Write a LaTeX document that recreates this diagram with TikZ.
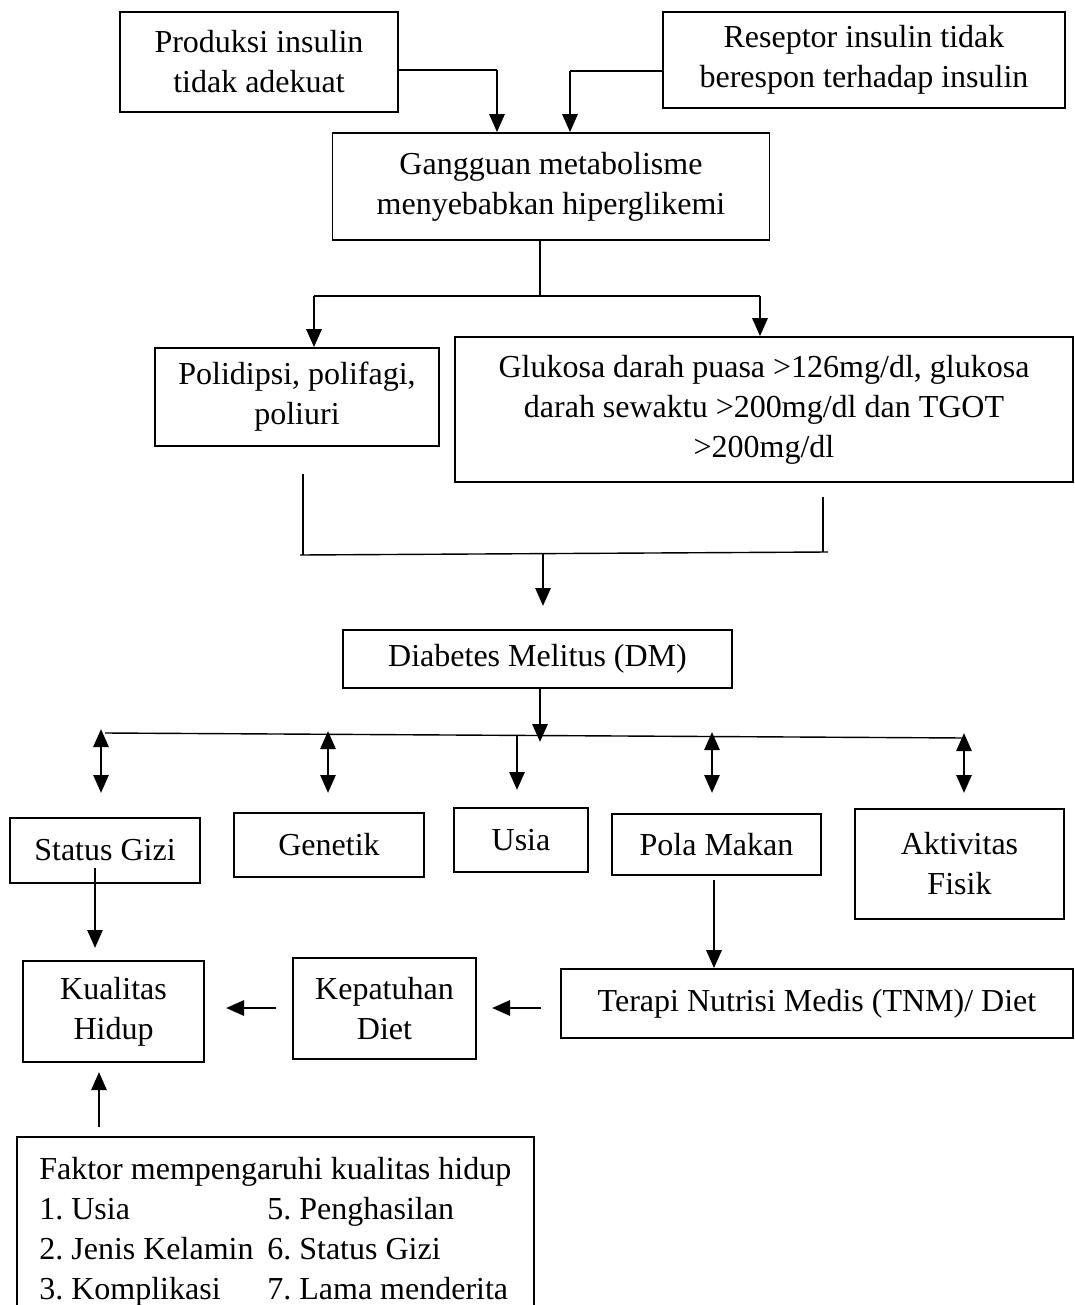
\documentclass[tikz,border=0pt]{standalone}
\usepackage{fontspec}
\setmainfont{Liberation Serif}
\usetikzlibrary{arrows.meta}
\newcommand{\teks}{\fontsize{16pt}{20pt}\selectfont}
\frenchspacing

\begin{document}
\begin{tikzpicture}[x=0.5pt,y=-0.5pt,
    kotak/.style={draw,line width=0.8pt,inner sep=0pt,align=center,font=\teks},
    garis/.style={line width=0.7pt},
    panah/.style={line width=1.4pt,-{Triangle[width=7.5pt,length=9pt]}},
    panahdua/.style={line width=1.4pt,{Triangle[width=7.5pt,length=9pt]}-{Triangle[width=7.5pt,length=9pt]}}]
    \useasboundingbox (0,0) rectangle (1075,1305);
    \clip (0,0) rectangle (1075,1305);

    % sebab
    \node[kotak,minimum width=139pt,minimum height=50pt] (produksi) at (259,62) {Produksi insulin\\tidak adekuat};
    \node[kotak,minimum width=201pt,minimum height=48pt] (reseptor) at (864,60) {Reseptor insulin tidak\\berespon terhadap insulin};
    \node[kotak,minimum width=218.5pt,minimum height=53.5pt] (gangguan) at (551,186.5) {Gangguan metabolisme\\menyebabkan hiperglikemi};
    \coordinate (tA) at (497,70);
    \coordinate (tB) at (570,71);
    \draw[garis] (produksi.east |- tA) -- (tA);
    \draw[panah] (tA) -- (tA |- gangguan.north);
    \draw[garis] (reseptor.west |- tB) -- (tB);
    \draw[panah] (tB) -- (tB |- gangguan.north);

    % gejala
    \node[kotak,minimum width=142pt,minimum height=49pt] (polidipsi) at (297,397) {Polidipsi, polifagi,\\poliuri};
    \node[kotak,minimum width=309pt,minimum height=72.5pt] (glukosa) at (764,409.5) {Glukosa darah puasa >126mg/dl, glukosa\\darah sewaktu >200mg/dl dan TGOT\\>200mg/dl};
    \coordinate (cA) at (540,296);
    \coordinate (cL) at (314,296);
    \coordinate (cR) at (760,296);
    \draw[garis] (gangguan.south -| cA) -- (cA);
    \draw[garis] (cL) -- (cR);
    \draw[panah] (cL) -- (cL |- polidipsi.north);
    \draw[panah] (cR) -- (cR |- glukosa.north);

    \coordinate (dL) at (303,474);
    \coordinate (dR) at (823,497);
    \coordinate (eL) at (300,555);
    \coordinate (eR) at (828,552);
    \coordinate (eM) at (543,553);
    \coordinate (eT) at (543,606);
    \draw[garis] (dL) -- (dL |- eL);
    \draw[garis] (dR) -- (dR |- eR);
    \draw[garis] (eL) -- (eR);
    \draw[panah] (eM) -- (eT);

    % DM dan faktor risiko
    \node[kotak,minimum width=194.5pt,minimum height=29pt] (dm) at (537.5,659) {Diabetes Melitus (DM)};
    \coordinate (fT) at (540,742);
    \draw[panah] (dm.south -| fT) -- (fT);
    \coordinate (gL) at (105,733);
    \coordinate (gR) at (965,738);
    \draw[garis] (gL) -- (gR);
    \foreach \x/\a in {101/729,328/731,712/732,964/733} {
        \coordinate (pa\x) at (\x,\a);
        \coordinate (pb\x) at (\x,793);
        \draw[panahdua] (pa\x) -- (pb\x);
    }
    \coordinate (ua) at (517,735);
    \coordinate (ub) at (517,790);
    \draw[panah] (ua) -- (ub);

    \node[kotak,minimum width=95pt,minimum height=32.5pt] (statusgizi) at (105,850.5) {Status Gizi};
    \node[kotak,minimum width=95pt,minimum height=32pt] (genetik) at (329,845) {Genetik};
    \node[kotak,minimum width=67pt,minimum height=32pt] (usia) at (521,840) {Usia};
    \node[kotak,minimum width=104.5pt,minimum height=30.5pt] (polamakan) at (716.5,844.5) {Pola Makan};
    \node[kotak,minimum width=104.5pt,minimum height=55pt] (aktivitas) at (959.5,864) {Aktivitas\\Fisik};

    % kualitas hidup
    \node[kotak,minimum width=90.5pt,minimum height=50.5pt] (kualitas) at (113.5,1011.5) {Kualitas\\Hidup};
    \node[kotak,minimum width=91.5pt,minimum height=50.5pt] (kepatuhan) at (384.5,1008.5) {Kepatuhan\\Diet};
    \node[kotak,minimum width=256pt,minimum height=34.5pt] (tnm) at (817,1003.5) {Terapi Nutrisi Medis (TNM)/ Diet};
    \coordinate (sg) at (95,868);
    \coordinate (sk) at (95,948);
    \draw[panah] (sg) -- (sk);
    \coordinate (pm) at (714,880);
    \draw[panah] (pm) -- (pm |- tnm.north);
    \coordinate (ta) at (541,1008);
    \coordinate (tb) at (492,1008);
    \draw[panah] (ta) -- (tb);
    \coordinate (ka) at (276,1008);
    \coordinate (kb) at (226,1008);
    \draw[panah] (ka) -- (kb);

    \node[kotak,anchor=north west,align=left,minimum width=258.5pt,inner ysep=10pt] (faktor) at (16,1136)
        {Faktor mempengaruhi kualitas hidup\\
         \makebox[114pt][l]{1. Usia}5. Penghasilan\\
         \makebox[114pt][l]{2. Jenis Kelamin}6. Status Gizi\\
         \makebox[114pt][l]{3. Komplikasi}7. Lama menderita};
    \coordinate (fa) at (99,1127);
    \coordinate (fb) at (99,1072);
    \draw[panah] (fa) -- (fb);
\end{tikzpicture}
\end{document}
